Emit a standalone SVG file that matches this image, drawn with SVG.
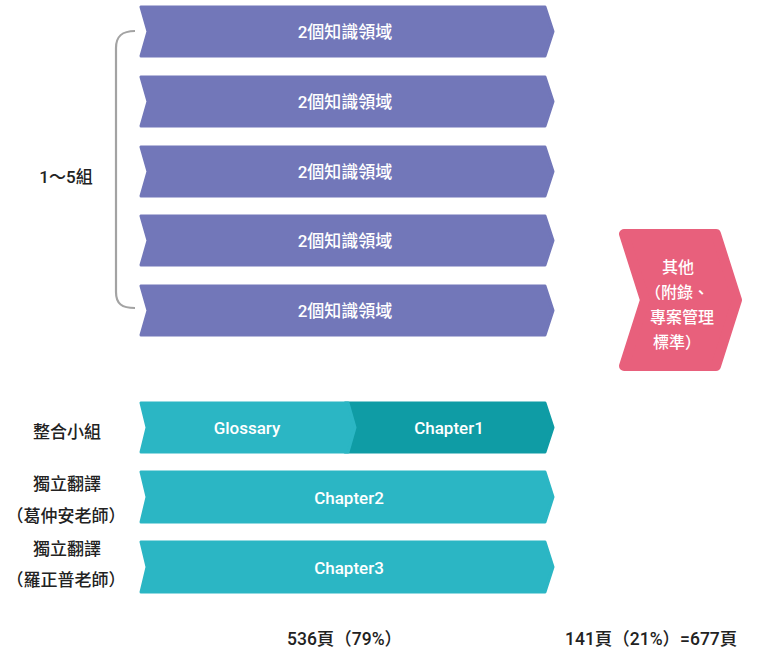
<svg xmlns="http://www.w3.org/2000/svg" width="768" height="666" viewBox="0 0 768 666">
<style>
.t{font-family:Roboto,"Noto Sans CJK TC",sans-serif;}
.w{fill:#ffffff;font-size:17px;font-weight:500;text-anchor:middle;dominant-baseline:central;}
.lab{fill:#222222;font-size:17px;font-weight:500;text-anchor:middle;dominant-baseline:central;}
.bot{fill:#222222;font-size:17.5px;font-weight:500;}
.pur{fill:#7277b9;stroke:#7277b9;stroke-width:3;stroke-linejoin:round;}
.tl{fill:#2bb6c4;stroke:#2bb6c4;stroke-width:3;stroke-linejoin:round;}
.td{fill:#0f9ca5;stroke:#0f9ca5;stroke-width:3;stroke-linejoin:round;}
.pk{fill:#e8607c;stroke:#e8607c;stroke-width:10;stroke-linejoin:round;}
</style>
<rect width="768" height="666" fill="#ffffff"/>
<g id="connectors">
<path d="M135,31 C122,31 116,36 116,48 V292 C116,304 122,308 135,308" fill="none" stroke="#a3a3a3" stroke-width="2.2"/>
</g>
<g id="ka1"><path class="pur" d="M141,7 H545 L553,31.5 L545,56 H141 L148,31.5 Z"/><text class="t w" x="345" y="32">2個知識領域</text></g>
<g id="ka2"><path class="pur" d="M141,77 H545 L553,101.5 L545,126 H141 L148,101.5 Z"/><text class="t w" x="345" y="102">2個知識領域</text></g>
<g id="ka3"><path class="pur" d="M141,147 H545 L553,171.5 L545,196 H141 L148,171.5 Z"/><text class="t w" x="345" y="172">2個知識領域</text></g>
<g id="ka4"><path class="pur" d="M141,216 H545 L553,240.5 L545,265 H141 L148,240.5 Z"/><text class="t w" x="345" y="241">2個知識領域</text></g>
<g id="ka5"><path class="pur" d="M141,286 H545 L553,310.5 L545,335 H141 L148,310.5 Z"/><text class="t w" x="345" y="311">2個知識領域</text></g>
<g id="label-groups"><text class="t lab" x="66" y="177">1～5組</text></g>
<g id="other">
<path class="pk" d="M624,234 H716 L737,300 L716,366 H624 L645,300 Z"/>
<text class="t" fill="#ffffff" font-size="16" font-weight="500">
<tspan x="662" y="273">其他</tspan>
<tspan x="645" y="298">（附錄、</tspan>
<tspan x="650" y="323">專案管理</tspan>
<tspan x="653" y="348">標準）</tspan>
</text>
</g>
<g id="chapter1"><path class="td" d="M345,403 H545 L553,427.5 L545,452 H345 Z"/><text class="t w" x="449" y="428">Chapter1</text></g>
<g id="glossary"><path class="tl" d="M141,403 H348 L355,427.5 L348,452 H141 L147,427.5 Z"/><text class="t w" x="247" y="428">Glossary</text></g>
<g id="label-integration"><text class="t lab" x="67" y="432">整合小組</text></g>
<g id="chapter2"><path class="tl" d="M141,472 H545 L553,497 L545,522 H141 L147,497 Z"/><text class="t w" x="349" y="498">Chapter2</text></g>
<g id="label-ge"><text class="t lab" x="67" y="484">獨立翻譯</text><text class="t lab" x="66" y="516">（葛仲安老師）</text></g>
<g id="chapter3"><path class="tl" d="M141,542 H545 L553,567 L545,592 H141 L147,567 Z"/><text class="t w" x="349" y="568">Chapter3</text></g>
<g id="label-luo"><text class="t lab" x="67" y="549">獨立翻譯</text><text class="t lab" x="66" y="580">（羅正普老師）</text></g>
<g id="totals">
<text class="t bot" x="287" y="645">536頁（79%）</text>
<text class="t bot" x="565" y="645">141頁（21%）=677頁</text>
</g>
</svg>
